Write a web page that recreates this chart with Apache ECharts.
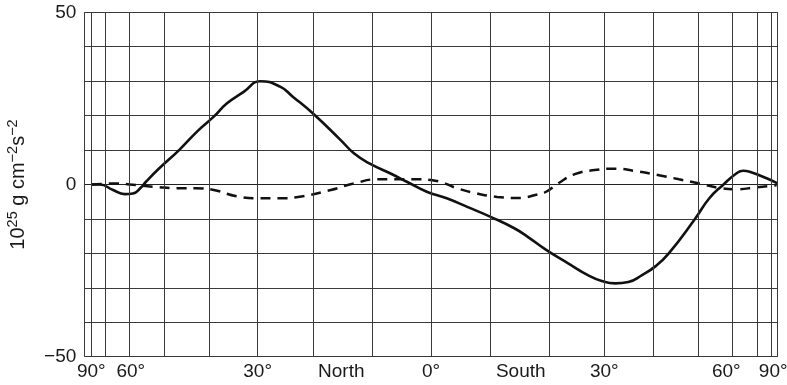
<!DOCTYPE html>
<html>
<head>
<meta charset="utf-8">
<script src="https://cdn.jsdelivr.net/npm/echarts@6/dist/echarts.min.js"></script>
<style>
  html, body { margin: 0; padding: 0; background: #fff; }
  #chart { width: 787px; height: 385px; }
</style>
</head>
<body>
<div id="chart"></div>
<script>
// Latitudes in degrees: north positive, south negative.
// The horizontal axis is area-weighted (sine of latitude), north on the left.
const solidLat = [78, 72.8, 66.5, 62.1, 59.3, 56.7, 55.3, 51.6, 46.6, 42.1, 38.8, 36.1, 32.7, 29.5, 25.8, 23.5, 19.9, 15.1, 12.8, 10.0, 6.7, 4.0, 0.7,
  -2.6, -6.0, -9.9, -13.9, -16.2, -19.4, -23.3, -26.9, -29.5, -32.1, -34.7, -37.5, -40.4, -43.3, -49.4, -53.4, -57.3, -61.7, -64.2, -66.8, -75.5, -88];
const solidVal = [0, 0, -1.6, -2.8, -2.6, -0.8, 0.8, 4.7, 10.0, 15.8, 19.7, 23.5, 26.9, 30.0, 28.4, 25.5, 20.6, 12.9, 9.0, 5.9, 3.2, 0.8, -2.1,
  -4.0, -6.5, -9.4, -12.7, -15.2, -19.0, -22.9, -26.3, -28.0, -28.7, -28.3, -26.3, -23.7, -20.0, -10.3, -4.0, -0.2, 3.2, 4.0, 3.7, 1.8, 0.3];

const dashedLat = [78, 64.7, 60.4, 52.5, 46.6, 42.8, 38.8, 34.1, 29.5, 25.8, 21.7, 16.8, 12.8, 8.9, 5.6, 2.3, -0.7, -4.3, -7.6, -11.0, -14.5,
  -17.9, -19.4, -21.5, -24.5, -28.2, -32.1, -36.1, -41.1, -45.7, -50.7, -56.3, -61.7, -69.9, -85.6];
const dashedVal = [0, 0.3, 0, -0.7, -1.1, -1.1, -1.6, -3.4, -4.0, -4.0, -3.4, -1.6, 0.3, 1.5, 1.5, 1.5, 1.1, -1.1, -2.6, -3.6, -3.9,
  -2.9, -2.1, 0.3, 3.0, 4.2, 4.6, 3.9, 2.7, 1.5, 0.3, -1.0, -1.4, -0.8, -0.2];

// Meridional grid every 10 degrees
const gridLats = [90, 80, 70, 60, 50, 40, 30, 20, 10, 0, -10, -20, -30, -40, -50, -60, -70, -80, -90];

// Tick labels along the latitude axis
const tickLats = [90, 60, 30, 15, 0, -15, -30, -60, -90];
const tickText = ['90°', '60°', '30°', 'North', '0°', 'South', '30°', '60°', '90°'];

// Value axis labels
const yLabels = [50, 0, -50];

const rad = Math.PI / 180;
const toAxis = lat => Math.sin(lat * rad);
const pair = (lats, vals) => lats.map((l, i) => [toAxis(l), vals[i]]);

const tickPos = tickLats.map(toAxis);
const labelFor = v => {
  const i = tickPos.findIndex(p => Math.abs(p - v) < 1e-6);
  if (i < 0) return '';
  if (i === 0) return '{edgeL|' + tickText[i] + '}';
  if (i === tickText.length - 1) return '{edgeR|' + tickText[i] + '}';
  if (i === tickText.length - 2) return '{nearR|' + tickText[i] + '}';
  return tickText[i];
};

const FONT = 'Liberation Sans, Arial, Helvetica, sans-serif';
const GRID = '#3a3a3a';

const chart = echarts.init(document.getElementById('chart'), null, { renderer: 'canvas' });
chart.setOption({
  animation: false,
  backgroundColor: '#ffffff',
  grid: { left: 84.3, right: 9.3, top: 12.3, bottom: 28.3, containLabel: false, outerBoundsMode: 'none' },
  xAxis: {
    type: 'value',
    min: -1,
    max: 1,
    inverse: true,
    axisLine: { show: true, lineStyle: { color: '#222', width: 1 } },
    axisTick: { show: false },
    splitLine: { show: false },
    axisLabel: {
      customValues: tickPos,
      formatter: labelFor,
      color: '#1a1a1a',
      fontFamily: FONT,
      fontSize: 19,
      margin: 6,
      alignMinLabel: 'center',
      alignMaxLabel: 'center',
      rich: {
        edgeL: { fontFamily: FONT, fontSize: 19, color: '#1a1a1a', padding: [0, 0, 0, 14] },
        edgeR: { fontFamily: FONT, fontSize: 19, color: '#1a1a1a', padding: [0, 9, 0, 0] },
        nearR: { fontFamily: FONT, fontSize: 19, color: '#1a1a1a', padding: [0, 10, 0, 0] }
      }
    }
  },
  yAxis: {
    type: 'value',
    min: -50,
    max: 50,
    interval: 10,
    name: '{n|10}{s|25}{n| g cm}{s|−2}{n|s}{s|−2}',
    nameLocation: 'middle',
    nameGap: 56,
    nameRotate: 90,
    nameTextStyle: {
      rich: {
        n: { fontFamily: FONT, fontSize: 20, color: '#1a1a1a', lineHeight: 23, verticalAlign: 'bottom' },
        s: { fontFamily: FONT, fontSize: 14.5, color: '#1a1a1a', lineHeight: 23, verticalAlign: 'top' }
      }
    },
    axisLine: { show: true, lineStyle: { color: '#222', width: 1 } },
    axisTick: { show: false },
    splitLine: { show: true, lineStyle: { color: GRID, width: 1 } },
    axisLabel: {
      formatter: v => (yLabels.indexOf(v) >= 0 ? (v < 0 ? '−' + Math.abs(v) : String(v)) : ''),
      color: '#1a1a1a',
      fontFamily: FONT,
      fontSize: 19,
      margin: 8
    }
  },
  series: [
    {
      name: 'meridians',
      type: 'line',
      data: [],
      silent: true,
      z: 1,
      markLine: {
        silent: true,
        symbol: ['none', 'none'],
        label: { show: false },
        lineStyle: { color: GRID, width: 1, type: 'solid' },
        emphasis: { disabled: true },
        data: gridLats.map(l => ({ xAxis: toAxis(l) }))
      }
    },
    {
      name: 'dashed',
      type: 'line',
      data: pair(dashedLat, dashedVal),
      smooth: 0.5,
      showSymbol: false,
      z: 3,
      lineStyle: { color: '#111', width: 2.5, type: [10, 7] }
    },
    {
      name: 'solid',
      type: 'line',
      data: pair(solidLat, solidVal),
      smooth: 0.5,
      showSymbol: false,
      z: 4,
      lineStyle: { color: '#111', width: 2.6 }
    }
  ]
});
</script>
</body>
</html>
